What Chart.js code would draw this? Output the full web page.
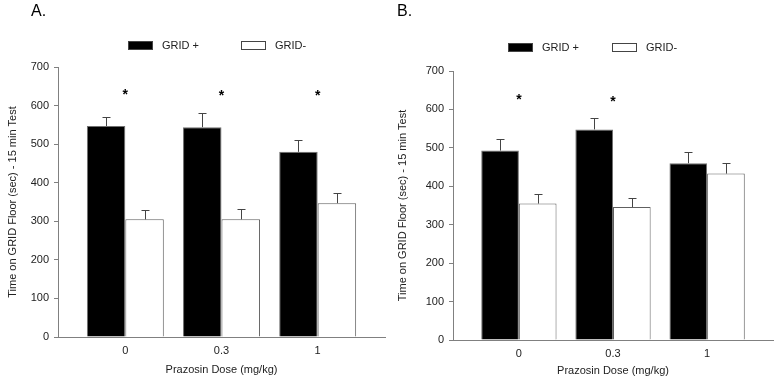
<!DOCTYPE html>
<html>
<head>
<meta charset="utf-8">
<script src="https://cdn.jsdelivr.net/npm/chart.js@4"></script>
<style>
  body { margin: 0; background: #fff; }
  .panel { position: absolute; top: 0; height: 378px; }
</style>
</head>
<body>
<div class="panel" style="left:0;width:388px"><canvas id="chartA" width="388" height="378"></canvas></div>
<div class="panel" style="left:388px;width:387px"><canvas id="chartB" width="387" height="378"></canvas></div>
<script>
const doses = ['0', '0.3', '1'];

// panel A
const gridPlusA = [547, 544, 480];
const gridPlusErrA = [24, 36, 31];
const gridMinusA = [305, 305, 347];
const gridMinusErrA = [23, 27, 27];
const starsA = [true, true, true];

// panel B
const gridPlusB = [493, 548, 460];
const gridPlusErrB = [30, 30, 28];
const gridMinusB = [355, 346, 433];
const gridMinusErrB = [26, 24, 27];
const starsB = [true, true, false];

const FONT = 'Liberation Sans, Arial, sans-serif';
const TEXT = '#222';
const AXIS = '#808080';

const errorBars = {
  id: 'errorBars',
  afterDatasetsDraw(chart, args, opts) {
    const ctx = chart.ctx;
    const y = chart.scales.y, x = chart.scales.x;
    ctx.save();
    ctx.strokeStyle = '#444';
    ctx.lineWidth = 1;
    chart.data.datasets.forEach((ds, di) => {
      chart.getDatasetMeta(di).data.forEach((bar, i) => {
        const top = y.getPixelForValue(ds.data[i].y + ds.errors[i]);
        const bx = Math.round(bar.x) + 0.5;
        ctx.beginPath();
        ctx.moveTo(bx, bar.y);
        ctx.lineTo(bx, Math.round(top) + 0.5);
        ctx.moveTo(bx - 4, Math.round(top) + 0.5);
        ctx.lineTo(bx + 4, Math.round(top) + 0.5);
        ctx.stroke();
      });
    });
    // significance asterisks
    ctx.fillStyle = '#000';
    ctx.font = 'bold 14px ' + FONT;
    ctx.textAlign = 'center';
    ctx.textBaseline = 'alphabetic';
    opts.stars.forEach((s, i) => {
      if (!s) return;
      ctx.fillText('*', x.getPixelForValue(i), y.getPixelForValue(opts.starLevel[i]) + 8);
    });
    ctx.restore();
  },
  afterDraw(chart, args, opts) {
    const ctx = chart.ctx;
    ctx.save();
    // panel letter
    ctx.fillStyle = '#000';
    ctx.font = '16px ' + FONT;
    ctx.textBaseline = 'alphabetic';
    ctx.fillText(opts.letter, opts.letterX, 16);
    // legend
    ctx.font = '11px ' + FONT;
    ctx.textBaseline = 'middle';
    chart.data.datasets.forEach((ds, di) => {
      const bx = opts.legendX[di], by = opts.legendY;
      ctx.fillStyle = ds.backgroundColor;
      ctx.fillRect(bx, by, 25, 9);
      ctx.strokeStyle = '#444';
      ctx.strokeRect(bx + 0.5, by + 0.5, 24, 8);
      ctx.fillStyle = TEXT;
      ctx.fillText(ds.label, bx + 34, by + 5);
    });
    ctx.restore();
  }
};

function makeChart(id, plus, plusErr, minus, minusErr, stars, starLevel, cfg) {
  return new Chart(document.getElementById(id), {
    type: 'bar',
    plugins: [errorBars],
    data: {
      datasets: [{
        label: 'GRID +',
        data: plus.map((v, i) => ({x: i, y: v})),
        errors: plusErr,
        backgroundColor: '#000',
        borderColor: '#707070',
        borderWidth: 1,
      }, {
        label: 'GRID-',
        data: minus.map((v, i) => ({x: i, y: v})),
        errors: minusErr,
        backgroundColor: '#fff',
        borderColor: '#606060',
        borderWidth: 1,
      }]
    },
    options: {
      responsive: false,
      animation: false,
      layout: {
        padding: {left: 0, top: cfg.top, right: cfg.right, bottom: 0}
      },
      datasets: {
        bar: {
          categoryPercentage: 0.8,
          barPercentage: 1.0,
        }
      },
      plugins: {
        legend: {display: false},
        tooltip: {enabled: false},
        errorBars: {
          stars: stars,
          starLevel: starLevel,
          letter: cfg.letter,
          letterX: cfg.letterX,
          legendX: cfg.legendX,
          legendY: cfg.legendY,
        }
      },
      scales: {
        x: {
          type: 'linear',
          min: -0.7,
          max: 2.7,
          offset: false,
          afterBuildTicks: (scale) => {
            scale.ticks = doses.map((d, i) => ({value: i}));
          },
          afterFit: (scale) => { scale.height = cfg.xHeight; },
          border: {display: true, color: AXIS, width: 1},
          grid: {display: false, drawTicks: false},
          ticks: {
            padding: 7,
            color: TEXT,
            font: {family: FONT, size: 11},
            callback: (v) => doses[v],
          },
          title: {
            display: true,
            text: 'Prazosin Dose (mg/kg)',
            color: TEXT,
            font: {family: FONT, size: 11},
            padding: {top: 0, bottom: cfg.xTitlePad},
          }
        },
        y: {
          min: 0,
          max: 700,
          afterFit: (scale) => { scale.width = cfg.yWidth; },
          border: {display: true, color: AXIS, width: 1},
          grid: {
            display: true,
            drawOnChartArea: false,
            drawTicks: true,
            tickLength: 4,
            color: AXIS,
          },
          ticks: {
            stepSize: 100,
            padding: 5,
            color: TEXT,
            font: {family: FONT, size: 11},
          },
          title: {
            display: true,
            text: 'Time on GRID Floor (sec) - 15 min Test',
            color: TEXT,
            font: {family: FONT, size: 11},
            padding: {top: cfg.yTitlePad, bottom: 0},
          }
        }
      }
    }
  });
}

makeChart('chartA', gridPlusA, gridPlusErrA, gridMinusA, gridMinusErrA, starsA, [639, 634, 634], {
  top: 67, right: 3, yWidth: 58, xHeight: 41, xTitlePad: 1, yTitlePad: 6,
  letter: 'A.', letterX: 31, legendX: [128, 241], legendY: 41,
});

makeChart('chartB', gridPlusB, gridPlusErrB, gridMinusB, gridMinusErrB, starsB, [636, 631, 0], {
  top: 71, right: 2, yWidth: 65, xHeight: 38, xTitlePad: 0, yTitlePad: 8,
  letter: 'B.', letterX: 9, legendX: [120, 224], legendY: 43,
});
</script>
</body>
</html>
